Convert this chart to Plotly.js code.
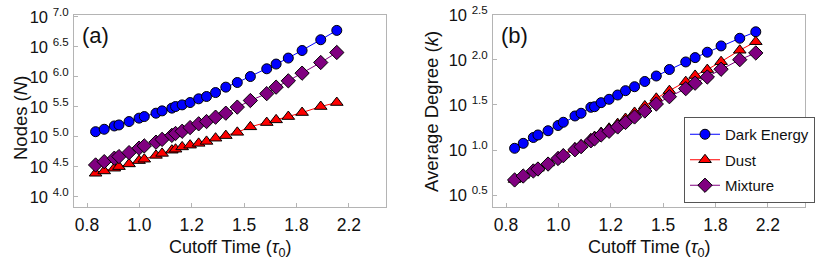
<!DOCTYPE html>
<html>
<head>
<meta charset="utf-8">
<script src="https://cdn.plot.ly/plotly-3.0.1.min.js"></script>
<style>html,body{margin:0;padding:0;background:#fff;}#chart{width:830px;height:262px;}</style>
</head>
<body>
<div id="chart"></div>
<script>
// Cutoff time (in units of tau_0)
const cutoffTime = [0.827,0.855,0.889,0.905,0.941,0.978,0.998,1.044,1.069,1.110,1.126,1.155,1.191,1.231,1.269,1.314,1.367,1.429,1.503,1.601,1.660,1.740,1.835,1.972,2.098];

// Panel (a): Nodes N
const nodesDarkEnergy = [122000,134000,152000,158000,180000,205000,218000,248000,271000,301000,320000,341000,373000,430000,470000,547000,673000,804000,1010000,1360000,1630000,2050000,2740000,4140000,5920000];
const nodesDust = [24800,27100,30100,32000,35500,40300,42500,49200,53100,60000,62400,68100,72800,78000,84100,95100,105000,119000,147000,173000,192000,218000,254000,320000,373000];
const nodesMixture = [34100,38700,44200,47000,54700,64900,70800,81700,90800,106000,114000,124000,143000,165000,180000,213000,248000,313000,403000,525000,673000,857000,1150000,1730000,2540000];

// Panel (b): Average degree k
const degreeDarkEnergy = [10.45,11.86,13.77,14.69,16.37,18.71,20.32,23.88,25.59,29.79,30.27,33.57,36.56,40.83,45.60,50.47,57.68,66.37,78.34,95.06,106.2,121.9,143.2,174.2,205.6];
const degreeDust = [4.70,5.24,5.94,6.28,7.18,8.30,8.95,10.52,11.38,13.30,14.09,15.63,17.42,19.63,22.39,26.12,30.83,37.50,45.60,57.41,67.30,78.16,95.72,128.2,159.6];
const degreeMixture = [4.65,5.14,5.85,6.15,6.98,8.05,8.65,10.07,10.89,12.65,13.30,14.69,16.14,18.03,20.23,23.28,27.10,32.43,39.08,47.97,55.21,64.71,78.89,100.7,119.7];

// Tick positions and labels
const xTickVals = [0.8, 0.9792, 1.1985, 1.467, 1.7956, 2.1978];
const xTickText = ['0.8','1.0','1.2','1.5','1.8','2.2'];
const yTickValsA = [10000, 31623, 100000, 316228, 1000000, 3162278, 10000000];
const yTickTextA = ['10 <sup>4.0</sup>','10 <sup>4.5</sup>','10 <sup>5.0</sup>','10 <sup>5.5</sup>','10 <sup>6.0</sup>','10 <sup>6.5</sup>','10 <sup>7.0</sup>'];
const yTickValsB = [3.1623, 10, 31.623, 100, 316.23];
const yTickTextB = ['10 <sup>0.5</sup>','10 <sup>1.0</sup>','10 <sup>1.5</sup>','10 <sup>2.0</sup>','10 <sup>2.5</sup>'];

const seriesNames = ['Dark Energy','Dust','Mixture'];
const colors = ['#0000ff','#ff0000','#800080'];
const symbols = ['circle','triangle-up','diamond'];
const sizes = [10, 11, 11];

const W = 830, H = 262;
const FONT = 'Liberation Sans, Arial, sans-serif';

function mk(y, i, xa, ya, show) {
  return {
    x: cutoffTime, y: y, xaxis: xa, yaxis: ya,
    type: 'scatter', mode: 'lines+markers',
    name: seriesNames[i], legendgroup: seriesNames[i], showlegend: show,
    line: {color: colors[i], width: 1},
    marker: {symbol: symbols[i], size: sizes[i], color: colors[i], line: {color: '#000', width: 1}}
  };
}

const data = [
  mk(nodesDarkEnergy, 0, 'x', 'y', false),
  mk(nodesDust, 1, 'x', 'y', false),
  mk(nodesMixture, 2, 'x', 'y', false),
  mk(degreeDarkEnergy, 0, 'x2', 'y2', true),
  mk(degreeDust, 1, 'x2', 'y2', true),
  mk(degreeMixture, 2, 'x2', 'y2', true)
];

const frameColor = '#b4b4b4';
function xax(domain) {
  return {
    type: 'log', domain: domain, range: [-0.1187, 0.4043],
    tickvals: xTickVals, ticktext: xTickText,
    ticks: 'inside', ticklen: 4, tickcolor: frameColor,
    showline: true, linecolor: frameColor, linewidth: 1, mirror: true,
    showgrid: false, zeroline: false,
    tickfont: {family: FONT, size: 17.5, color: '#111'},
    ticklabelstandoff: 2
  };
}
function yax(range, vals, text, anchor) {
  return {
    type: 'log', domain: [1 - 207/H, 1 - 14.5/H], range: range,
    tickvals: vals, ticktext: text, anchor: anchor,
    ticks: 'inside', ticklen: 4, tickcolor: frameColor,
    showline: true, linecolor: frameColor, linewidth: 1, mirror: true,
    showgrid: false, zeroline: false,
    tickfont: {family: FONT, size: 16.5, color: '#111'},
    ticklabelstandoff: 1
  };
}

const layout = {
  width: W, height: H,
  margin: {l: 0, r: 0, t: 0, b: 0},
  paper_bgcolor: '#fff', plot_bgcolor: '#fff',
  font: {family: FONT, color: '#111'},
  xaxis: Object.assign(xax([74/W, 386/W]), {anchor: 'y'}),
  yaxis: yax([3.833, 7.037], yTickValsA, yTickTextA, 'x'),
  xaxis2: Object.assign(xax([493/W, 805/W]), {anchor: 'y2'}),
  yaxis2: yax([0.367, 2.505], yTickValsB, yTickTextB, 'x2'),
  legend: {
    x: 684/W, y: 1 - 117/H, xanchor: 'left', yanchor: 'top',
    bgcolor: '#fff', bordercolor: '#555', borderwidth: 1,
    font: {family: FONT, size: 15, color: '#111'},
    tracegroupgap: 3, itemwidth: 30
  },
  annotations: [
    {text: '(a)', xref: 'paper', yref: 'paper', x: 95/W, y: 1 - 35/H, xanchor: 'center', yanchor: 'middle', showarrow: false, font: {family: FONT, size: 22, color: '#111'}},
    {text: '(b)', xref: 'paper', yref: 'paper', x: 514/W, y: 1 - 35/H, xanchor: 'center', yanchor: 'middle', showarrow: false, font: {family: FONT, size: 22, color: '#111'}},
    {text: 'Cutoff Time (<i>τ</i><sub>0</sub>)', xref: 'paper', yref: 'paper', x: 230/W, y: 1 - 248/H, xanchor: 'center', yanchor: 'middle', showarrow: false, font: {family: FONT, size: 18, color: '#111'}},
    {text: 'Cutoff Time (<i>τ</i><sub>0</sub>)', xref: 'paper', yref: 'paper', x: 649/W, y: 1 - 248/H, xanchor: 'center', yanchor: 'middle', showarrow: false, font: {family: FONT, size: 18, color: '#111'}},
    {text: 'Nodes (<i>N</i>)', xref: 'paper', yref: 'paper', x: 20/W, y: 1 - 118/H, xanchor: 'center', yanchor: 'middle', textangle: -90, showarrow: false, font: {family: FONT, size: 18.5, color: '#111'}},
    {text: 'Average Degree (<i>k</i>)', xref: 'paper', yref: 'paper', x: 431/W, y: 1 - 112/H, xanchor: 'center', yanchor: 'middle', textangle: -90, showarrow: false, font: {family: FONT, size: 18.5, color: '#111'}}
  ]
};

Plotly.newPlot('chart', data, layout, {staticPlot: true, displayModeBar: false});
</script>
</body>
</html>
